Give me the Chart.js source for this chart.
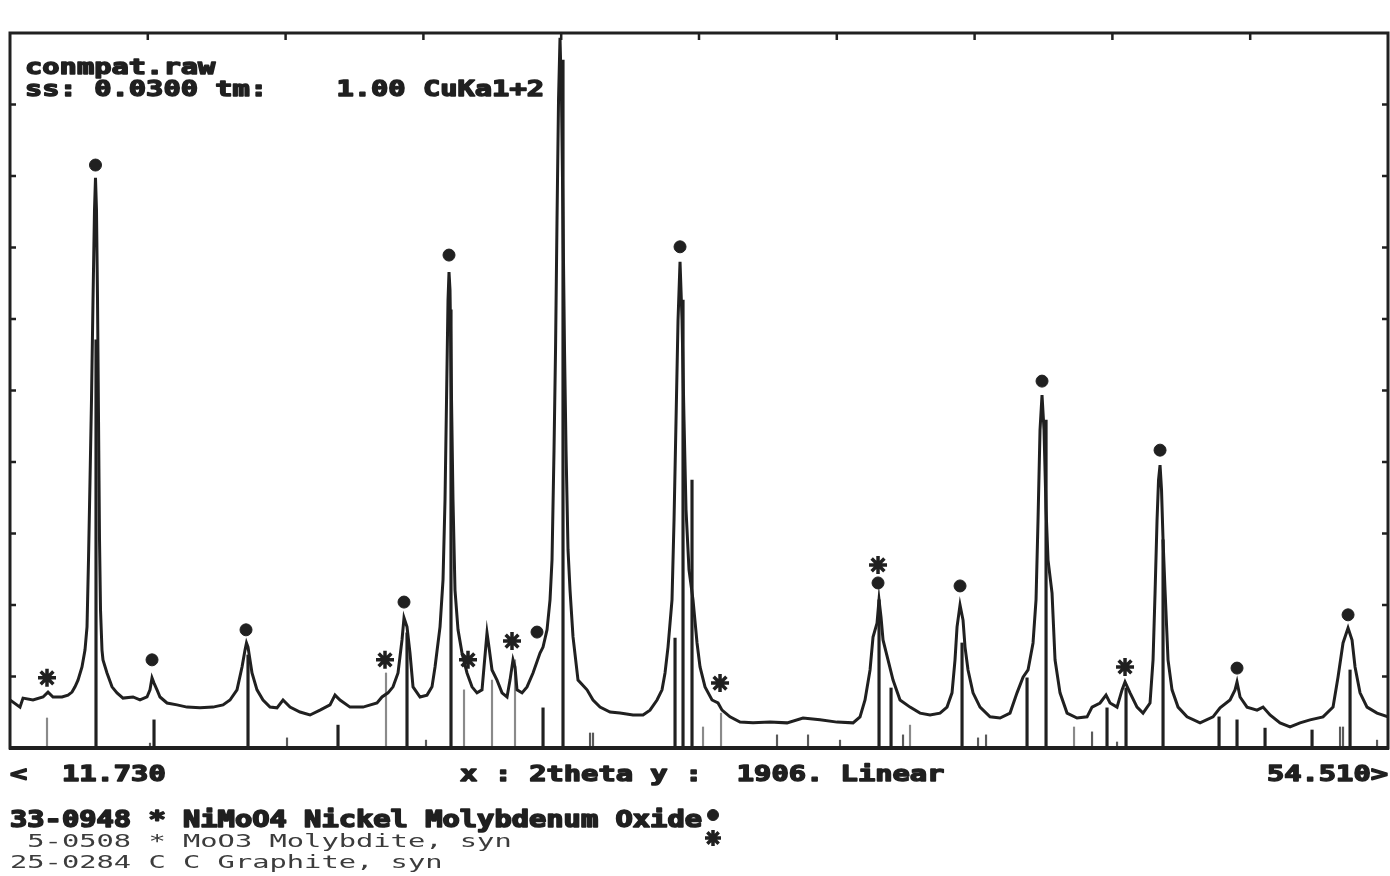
<!DOCTYPE html>
<html>
<head>
<meta charset="utf-8">
<script src="https://cdn.jsdelivr.net/npm/chart.js@4.4.1/dist/chart.umd.min.js"></script>
<style>
  html, body { margin: 0; padding: 0; background: #ffffff; }
  #wrap { width: 1390px; height: 876px; }
</style>
</head>
<body>
<div id="wrap"><canvas id="xrd" width="1390" height="876"></canvas></div>
<script>
// Measured scan: 2-theta (degrees) and intensity (counts)
const scanTwoTheta = [
  11.730,12.040,12.134,12.444,12.755,12.910,13.065,13.344,13.531,13.655,13.748,13.841,13.965,14.058,14.121,14.167,
  14.214,14.260,14.307,14.353,14.384,14.415,14.447,14.478,14.509,14.540,14.586,14.617,14.741,14.897,15.052,15.238,
  15.549,15.766,15.983,16.076,16.139,16.201,16.294,16.387,16.604,16.915,17.225,17.629,18.032,18.343,18.560,18.777,
  18.933,19.026,19.072,19.119,19.243,19.398,19.585,19.802,20.019,20.206,20.423,20.733,21.044,21.354,21.665,21.820,
  21.975,22.286,22.689,23.124,23.279,23.465,23.621,23.776,23.900,23.962,24.055,24.148,24.242,24.459,24.676,24.831,
  24.925,25.080,25.173,25.235,25.282,25.328,25.359,25.390,25.437,25.483,25.545,25.639,25.763,25.918,26.073,26.228,
  26.384,26.446,26.539,26.601,26.694,26.849,27.005,27.160,27.253,27.346,27.408,27.470,27.626,27.781,27.967,28.184,
  28.278,28.402,28.495,28.557,28.619,28.666,28.712,28.759,28.805,28.852,28.898,28.945,28.992,29.054,29.116,29.209,
  29.364,29.644,29.830,30.047,30.358,30.668,31.072,31.382,31.599,31.817,31.972,32.065,32.158,32.282,32.345,32.407,
  32.469,32.531,32.593,32.655,32.717,32.810,32.934,33.059,33.152,33.307,33.524,33.711,33.835,34.083,34.394,34.797,
  35.325,35.853,36.349,36.877,37.405,37.902,38.119,38.274,38.430,38.523,38.647,38.709,38.771,38.833,38.988,39.144,
  39.361,39.671,39.982,40.292,40.603,40.820,40.975,41.068,41.131,41.224,41.317,41.379,41.472,41.627,41.845,42.155,
  42.466,42.776,42.993,43.180,43.335,43.490,43.583,43.645,43.707,43.769,43.831,43.894,43.956,44.080,44.173,44.328,
  44.546,44.856,45.167,45.322,45.570,45.756,45.881,46.098,46.253,46.346,46.502,46.719,46.905,47.122,47.216,47.278,
  47.340,47.386,47.433,47.479,47.526,47.588,47.681,47.805,47.992,48.271,48.675,49.078,49.296,49.606,49.761,49.823,
  49.917,50.134,50.444,50.631,50.848,51.158,51.469,51.779,52.090,52.493,52.804,52.959,53.114,53.270,53.394,53.487,
  53.642,53.859,54.170,54.510
];
const scanCounts = [
  128,109,133,128,136,149,136,136,141,149,163,181,216,261,323,501,
  714,928,1194,1434,1520,1434,1194,874,555,368,261,235,200,163,147,133,
  136,128,136,155,187,173,155,136,120,115,109,107,109,115,128,155,
  216,261,280,269,200,155,128,109,107,128,109,96,88,101,115,141,
  128,109,109,120,136,147,163,200,288,347,323,253,163,136,141,163,
  216,323,448,661,928,1194,1269,1221,928,661,421,315,253,200,163,147,
  155,216,307,269,208,181,147,136,181,235,216,155,147,163,200,253,
  269,315,395,501,794,1061,1408,1728,1893,1728,1408,1061,794,528,421,296,
  181,155,128,109,96,93,88,88,101,128,155,200,269,395,608,874,
  1141,1296,1141,874,635,475,395,280,216,163,128,120,101,83,69,67,
  69,67,80,75,69,67,83,128,208,296,333,395,349,288,235,181,
  128,109,93,88,93,109,147,235,323,381,341,269,208,147,109,83,
  80,93,147,189,208,280,395,608,848,941,848,635,501,413,235,147,
  93,80,83,109,120,141,120,109,155,176,147,109,93,120,235,413,
  608,714,754,688,555,421,235,155,109,83,67,83,107,128,155,176,
  136,109,101,109,88,67,56,67,75,83,109,189,280,320,288,216,
  147,109,93,83
];

// Reference pattern lines: position (2-theta) and relative height (counts)
const niMoO4LineTwoTheta = [14.400,16.201,19.119,21.913,24.055,25.421,28.278,28.898,32.376,32.624,32.903,38.709,
  39.082,41.286,43.304,43.894,45.787,46.377,47.526,49.265,49.823,50.693,52.152,53.332];
const niMoO4LineCounts = [1088,75,248,61,307,1168,107,1834,293,1194,714,395,
  160,280,187,874,107,160,555,83,75,53,48,208];
const moO3LineTwoTheta = [12.879,23.403,25.825,26.694,27.408,33.245,33.804,39.671,44.763];
const moO3LineCounts = [80,200,155,181,235,56,93,61,56];
const minorLineTwoTheta = [16.076,20.330,24.645,29.737,29.830,35.542,36.505,37.498,39.454,41.783,42.031,45.322,
  46.098,53.021,53.114,54.170];
const minorLineCounts = [13,27,21,40,40,35,35,21,35,27,35,43,16,56,56,21];

// Peak identification marks
const dotTwoTheta = [14.384,16.139,19.057,23.962,25.359,28.091,28.805,32.531,38.678,41.224,43.769,47.433,49.823,53.270];
const dotCounts = [1554,235,315,389,1314,309,1946,1336,440,432,978,794,213,355];
const starTwoTheta = [12.879,23.372,25.949,27.315,33.773,38.678,46.346];
const starCounts = [187,235,235,285,173,488,216];

// Screen text
const headerLines = ['conmpat.raw', 'ss: 0.0300 tm:    1.00 CuKa1+2'];
const axisStart = '<  11.730';
const axisMiddle = 'x : 2theta y :  1906. Linear';
const axisEnd = '54.510>';
const cardLines = [
  '33-0948 * NiMoO4 Nickel Molybdenum Oxide',
  ' 5-0508 * MoO3 Molybdite, syn',
  '25-0284 C C Graphite, syn'
];

const X_MIN = 11.73, X_MAX = 54.51, Y_MAX = 1906;
const INK = '#202020';
const CELL = 17.3;

const zip = (xs, ys) => xs.map((x, i) => ({ x: x, y: ys[i] }));

// Wide, heavy monospace text in 80-column screen cells
function monoText(ctx, str, x, baseline, size, weight, color, heavy) {
  ctx.save();
  ctx.font = weight + ' ' + size + 'px "DejaVu Sans Mono", "Liberation Mono", monospace';
  const adv = ctx.measureText('M').width;
  ctx.translate(x, baseline);
  ctx.scale(CELL / adv, 1);
  ctx.fillStyle = color;
  ctx.strokeStyle = color;
  ctx.textBaseline = 'alphabetic';
  ctx.textAlign = 'left';
  ctx.fillText(str, 0, 0);
  if (heavy) {
    ctx.lineWidth = heavy;
    ctx.lineJoin = 'round';
    ctx.strokeText(str, 0, 0);
  }
  ctx.restore();
}

const framePlugin = {
  id: 'screenFrame',
  afterDraw(chart) {
    const ctx = chart.ctx;
    const a = chart.chartArea;
    const w = a.right - a.left, h = a.bottom - a.top;
    ctx.save();
    ctx.strokeStyle = INK;
    ctx.lineWidth = 3;
    ctx.strokeRect(a.left, a.top, w, h);
    ctx.lineWidth = 4;
    ctx.beginPath();
    ctx.moveTo(a.left - 1, a.bottom);
    ctx.lineTo(a.right + 1, a.bottom);
    ctx.stroke();
    // inward division ticks
    ctx.lineWidth = 2.5;
    ctx.beginPath();
    for (let k = 1; k < 10; k++) {
      const tx = a.left + w * k / 10;
      ctx.moveTo(tx, a.top); ctx.lineTo(tx, a.top + 7);
      const ty = a.top + h * k / 10;
      ctx.moveTo(a.left, ty); ctx.lineTo(a.left + 6, ty);
      ctx.moveTo(a.right, ty); ctx.lineTo(a.right - 6, ty);
    }
    ctx.stroke();
    ctx.restore();

    monoText(ctx, headerLines[0], 25, 74, 21, 'bold', INK, 1.4);
    monoText(ctx, headerLines[1], 25, 96, 21, 'bold', INK, 1.4);
    monoText(ctx, axisStart, 10, 781, 21, 'bold', INK, 1.4);
    monoText(ctx, axisMiddle, 460, 781, 21, 'bold', INK, 1.4);
    monoText(ctx, axisEnd, 1388 - CELL * axisEnd.length, 781, 21, 'bold', INK, 1.4);
    monoText(ctx, cardLines[0], 10, 827, 23, 'bold', INK, 1.6);
    monoText(ctx, cardLines[1], 10, 847, 18, 'normal', '#3c3c3c', 0);
    monoText(ctx, cardLines[2], 10, 868, 18, 'normal', '#3c3c3c', 0);

    // phase symbols after the card names
    ctx.save();
    ctx.fillStyle = INK;
    ctx.strokeStyle = INK;
    if (Chart.helpers && Chart.helpers.drawPoint) {
      Chart.helpers.drawPoint(ctx, { pointStyle: 'circle', radius: 5.5, borderWidth: 1 }, 713, 815);
      ctx.lineWidth = 3.5;
      Chart.helpers.drawPoint(ctx, { pointStyle: 'star', radius: 8, borderWidth: 3.5 }, 713, 838);
    }
    ctx.restore();
  }
};

const stick = (label, xs, ys, color, thick) => ({
  type: 'bar',
  label: label,
  data: zip(xs, ys),
  backgroundColor: color,
  borderWidth: 0,
  barThickness: thick,
  grouped: false,
  order: 3
});

new Chart(document.getElementById('xrd'), {
  type: 'line',
  data: {
    datasets: [
      {
        label: 'conmpat.raw',
        data: zip(scanTwoTheta, scanCounts),
        borderColor: INK,
        borderWidth: 3,
        pointRadius: 0,
        tension: 0,
        fill: false,
        order: 1
      },
      stick('33-0948 NiMoO4', niMoO4LineTwoTheta, niMoO4LineCounts, INK, 2.5),
      stick('5-0508 MoO3', moO3LineTwoTheta, moO3LineCounts, '#8a8a8a', 1.5),
      stick('minor lines', minorLineTwoTheta, minorLineCounts, '#5a5a5a', 1.5),
      {
        label: 'NiMoO4 peaks',
        data: zip(dotTwoTheta, dotCounts),
        showLine: false,
        pointStyle: 'circle',
        pointRadius: 6,
        pointBackgroundColor: INK,
        pointBorderColor: INK,
        pointBorderWidth: 1,
        clip: false,
        order: 0
      },
      {
        label: 'MoO3 peaks',
        data: zip(starTwoTheta, starCounts),
        showLine: false,
        pointStyle: 'star',
        pointRadius: 9,
        pointBackgroundColor: INK,
        pointBorderColor: INK,
        pointBorderWidth: 3.5,
        clip: false,
        order: 0
      }
    ]
  },
  options: {
    responsive: false,
    devicePixelRatio: 1,
    animation: false,
    events: [],
    layout: { autoPadding: false, padding: { left: 10, right: 2, top: 33, bottom: 128 } },
    scales: {
      x: { type: 'linear', min: X_MIN, max: X_MAX, display: false, offset: false },
      y: { type: 'linear', min: 0, max: Y_MAX, display: false }
    },
    plugins: {
      legend: { display: false },
      tooltip: { enabled: false }
    }
  },
  plugins: [framePlugin]
});
</script>
</body>
</html>
